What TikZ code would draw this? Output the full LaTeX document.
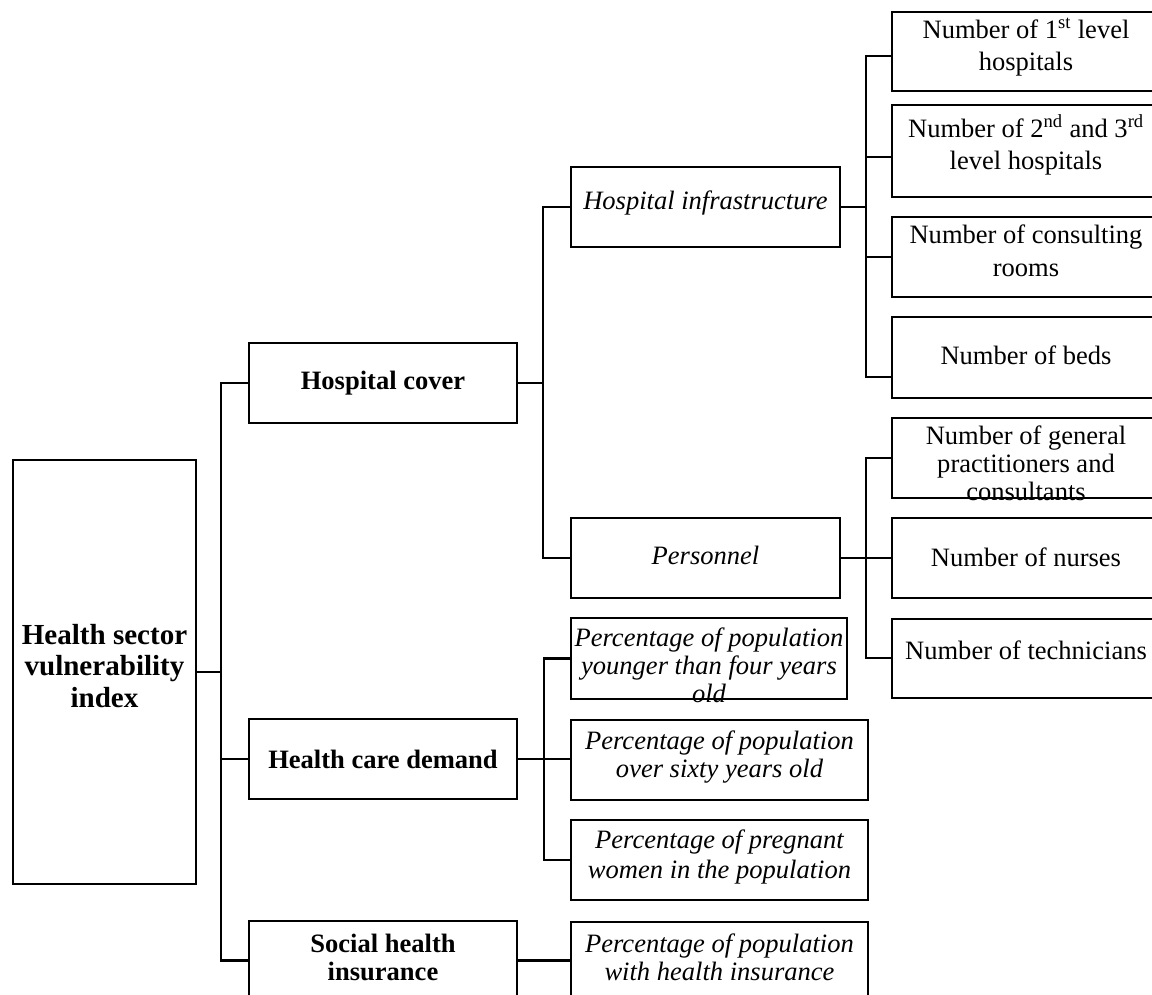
\documentclass[tikz,border=0pt]{standalone}
\usepackage{fontspec}
\setmainfont{Liberation Serif}
\usetikzlibrary{fit}
\tikzset{
  box/.style={draw=black, line width=1.8pt, inner sep=0pt, rectangle},
  txt/.style={align=center, inner sep=0pt, font=\fontsize{19.9pt}{21pt}\selectfont},
  txtw/.style={align=center, inner sep=0pt, font=\fontsize{19.9pt}{24.5pt}\selectfont},
  btxt/.style={align=center, inner sep=0pt, font=\fontsize{19.9pt}{21pt}\selectfont\bfseries},
  itxt/.style={align=center, inner sep=0pt, font=\fontsize{19.9pt}{21pt}\selectfont\itshape},
  conn/.style={draw=black, line width=1.9pt, line join=miter}
}
\begin{document}
\begin{tikzpicture}[x=0.75pt,y=-0.75pt]
\useasboundingbox (0,0) rectangle (1152,995);

% boxes
\node[box, fit={(13,460) (196,884)}] (root) {};
\node[box, fit={(249,343) (517,423)}] (hc) {};
\node[box, fit={(249,719) (517,799)}] (hcd) {};
\node[box, fit={(249,921) (517,1000)}] (shi) {};
\node[box, fit={(571,167) (840,247)}] (hi) {};
\node[box, fit={(571,518) (840,598)}] (pers) {};
\node[box, fit={(892,12) (1160,91)}] (l1) {};
\node[box, fit={(892,105) (1160,197)}] (l2) {};
\node[box, fit={(892,217) (1160,297)}] (l3) {};
\node[box, fit={(892,317) (1160,398)}] (l4) {};
\node[box, fit={(892,418) (1160,498)}] (l5) {};
\node[box, fit={(892,518) (1160,598)}] (l6) {};
\node[box, fit={(892,619) (1160,698)}] (l7) {};
\node[box, fit={(571,618) (847,699)}] (p1) {};
\node[box, fit={(571,720) (868,800)}] (p2) {};
\node[box, fit={(571,820) (868,900)}] (p3) {};
\node[box, fit={(571,922) (868,1000)}] (p4) {};

% texts
\node[btxt, font=\fontsize{21.8pt}{23.3pt}\selectfont\bfseries] (root-t) at (104.5,666) {Health sector\\vulnerability\\index};
\node[btxt] (hc-t) at (383,383) {Hospital cover};
\node[btxt] (hcd-t) at (383,759) {Health care demand};
\node[btxt] (shi-t) at (383,957) {Social health\\insurance};
\node[itxt] (hi-t) at (705.5,203) {Hospital infrastructure};
\node[itxt] (pers-t) at (705.5,555) {Personnel};
\node[txtw] (l1-t) at (1026,47) {Number of 1\textsuperscript{st} level\\hospitals};
\node[txtw] (l2-t) at (1026,145) {Number of 2\textsuperscript{nd} and 3\textsuperscript{rd}\\level hospitals};
\node[txtw] (l3-t) at (1026,251) {Number of consulting\\rooms};
\node[txt] (l4-t) at (1026,355) {Number of beds};
\node[txt] (l5-t) at (1026,463) {Number of general\\practitioners and\\consultants};
\node[txt] (l6-t) at (1026,557) {Number of nurses};
\node[txt] (l7-t) at (1026,650) {Number of technicians};
\node[itxt] (p1-t) at (709,665) {Percentage of population\\younger than four years\\old};
\node[itxt] (p2-t) at (719.5,757) {Percentage of population\\over sixty years old};
\node[itxt, font=\fontsize{19.9pt}{22.5pt}\selectfont\itshape] (p3-t) at (719.5,857) {Percentage of pregnant\\women in the population};
\node[itxt] (p4-t) at (719.5,957) {Percentage of population\\with health insurance};

% junction coordinates
\coordinate (ta) at (221,383);
\coordinate (tc) at (543,383);
\coordinate (td) at (866,207);
\coordinate (d1) at (866,56);
\coordinate (d2) at (866,157);
\coordinate (d3) at (866,257);
\coordinate (d4) at (866,377);
\coordinate (e1) at (866,458);
\coordinate (e3) at (866,658);
\coordinate (tf) at (544,759);

% connectors
\draw[conn] (hc.west) -- (hc.west -| ta) -- (shi.west -| ta) -- (shi.west);
\draw[conn] (root.east) -- (root.east -| ta);
\draw[conn] (hcd.west) -- (hcd.west -| ta);

\draw[conn] (hi.west) -- (hi.west -| tc) -- (pers.west -| tc) -- (pers.west);
\draw[conn] (hc.east) -- (hc.east -| tc);

\draw[conn] (d1 -| l1.west) -- (d1) -- (d4) -- (d4 -| l4.west);
\draw[conn] (d2) -- (d2 -| l2.west);
\draw[conn] (d3) -- (d3 -| l3.west);
\draw[conn] (hi.east) -- (hi.east -| td);

\draw[conn] (e1 -| l5.west) -- (e1) -- (e3) -- (e3 -| l7.west);
\draw[conn] (pers.east) -- (pers.east -| l6.west);

\draw[conn] (p1.west) -- (p1.west -| tf) -- (p3.west -| tf) -- (p3.west);
\draw[conn] (hcd.east) -- (hcd.east -| p2.west);

\draw[conn] (shi.east) -- (shi.east -| p4.west);
\end{tikzpicture}
\end{document}
